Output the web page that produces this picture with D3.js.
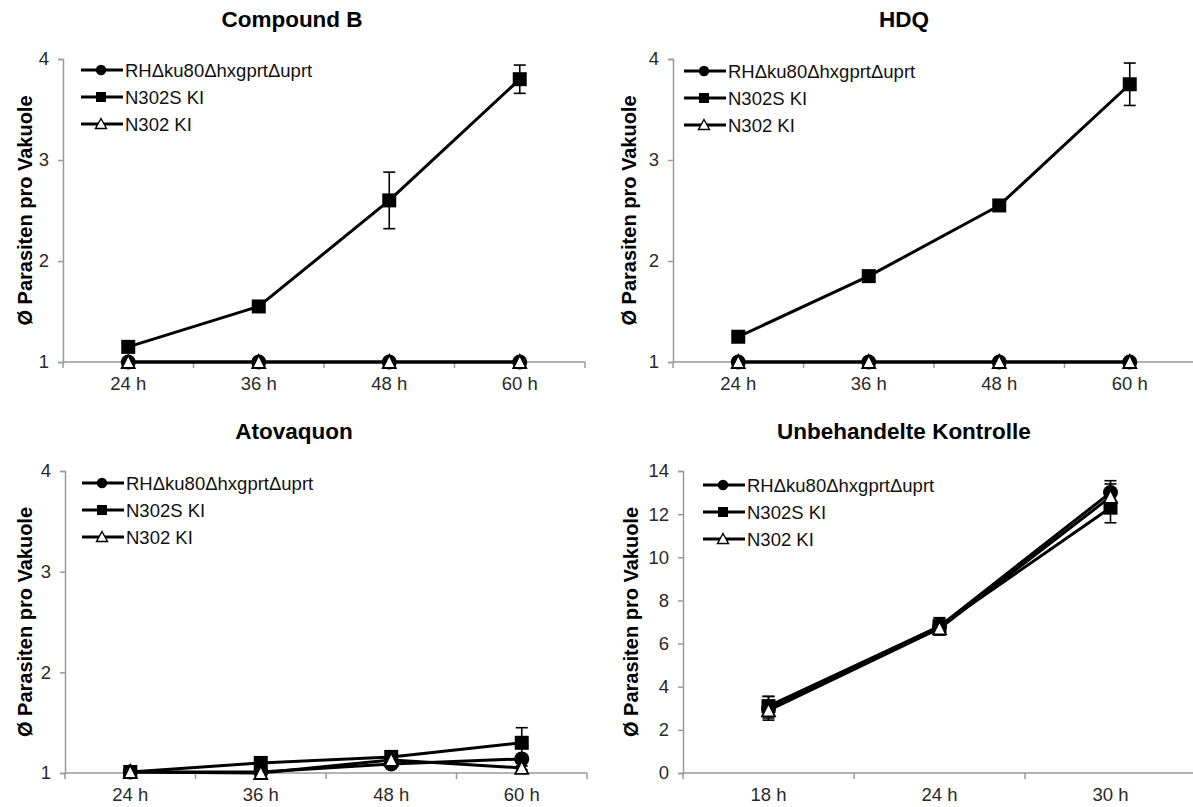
<!DOCTYPE html>
<html>
<head>
<meta charset="utf-8">
<script src="https://cdn.jsdelivr.net/npm/d3@7"></script>
<style>
  html, body { margin: 0; padding: 0; background: #fff; overflow: hidden; }
  svg { display: block; font-family: "Liberation Sans", Arial, sans-serif; }
</style>
</head>
<body>
<svg id="chart" width="1193" height="807"></svg>
<script>
// Strain names (legend)
const strains = ["RH\u0394ku80\u0394hxgprt\u0394uprt", "N302S KI", "N302 KI"];

// Time points
const hoursTreated = ["24 h", "36 h", "48 h", "60 h"];
const hoursControl = ["18 h", "24 h", "30 h"];

// Compound B: mean parasites per vacuole and SD
const compBRH     = [1.0, 1.0, 1.0, 1.0];
const compBN302S  = [1.15, 1.55, 2.6, 3.8];
const compBN302   = [1.0, 1.0, 1.0, 1.0];
const compBErrRH    = [0, 0, 0, 0];
const compBErrN302S = [0.03, 0.03, 0.28, 0.14];
const compBErrN302  = [0, 0, 0, 0];

// HDQ
const hdqRH     = [1.0, 1.0, 1.0, 1.0];
const hdqN302S  = [1.25, 1.85, 2.55, 3.75];
const hdqN302   = [1.0, 1.0, 1.0, 1.0];
const hdqErrRH    = [0, 0, 0, 0];
const hdqErrN302S = [0.03, 0.03, 0.03, 0.21];
const hdqErrN302  = [0, 0, 0, 0];

// Atovaquon
const atoRH     = [1.01, 1.01, 1.09, 1.14];
const atoN302S  = [1.01, 1.10, 1.16, 1.30];
const atoN302   = [1.01, 1.00, 1.13, 1.05];
const atoErrRH    = [0, 0, 0.02, 0.03];
const atoErrN302S = [0, 0.02, 0.02, 0.15];
const atoErrN302  = [0, 0, 0.02, 0.02];

// Unbehandelte Kontrolle
const ctrlRH     = [3.0, 6.8, 13.0];
const ctrlN302S  = [3.1, 6.8, 12.3];
const ctrlN302   = [2.9, 6.7, 12.8];
const ctrlErrRH    = [0.55, 0.4, 0.55];
const ctrlErrN302S = [0.45, 0.35, 0.7];
const ctrlErrN302  = [0.35, 0.3, 0.6];

// Y-axis ticks
const ticksTreated = [1, 2, 3, 4];
const ticksControl = [0, 2, 4, 6, 8, 10, 12, 14];

const yTitle = "\u00d8 Parasiten pro Vakuole";

const panels = [
  { title: "Compound B", cats: hoursTreated, series: [compBRH, compBN302S, compBN302],
    errs: [compBErrRH, compBErrN302S, compBErrN302], domain: [1, 4], ticks: ticksTreated,
    x0: 63, x1: 585, yTop: 59, yBot: 362, titleX: 292, titleY: 27, yTitleX: 25, legX: 81, legY: 70 },
  { title: "HDQ", cats: hoursTreated, series: [hdqRH, hdqN302S, hdqN302],
    errs: [hdqErrRH, hdqErrN302S, hdqErrN302], domain: [1, 4], ticks: ticksTreated,
    x0: 673, x1: 1195, yTop: 59, yBot: 362, titleX: 904, titleY: 27, yTitleX: 629, legX: 684, legY: 71 },
  { title: "Atovaquon", cats: hoursTreated, series: [atoRH, atoN302S, atoN302],
    errs: [atoErrRH, atoErrN302S, atoErrN302], domain: [1, 4], ticks: ticksTreated,
    x0: 65, x1: 587, yTop: 471, yBot: 773, titleX: 294, titleY: 439, yTitleX: 25, legX: 82, legY: 483 },
  { title: "Unbehandelte Kontrolle", cats: hoursControl, series: [ctrlRH, ctrlN302S, ctrlN302],
    errs: [ctrlErrRH, ctrlErrN302S, ctrlErrN302], domain: [0, 14], ticks: ticksControl,
    x0: 683, x1: 1196, yTop: 471, yBot: 773, titleX: 904, titleY: 439, yTitleX: 631, legX: 703, legY: 485 }
];

const svg = d3.select("#chart");
const axisGrey = "#9a9a9a";
const textGrey = "#2a2a2a";

function drawMarker(g, kind, cx, cy) {
  if (kind === 0) {
    g.append("circle").attr("cx", cx).attr("cy", cy).attr("r", 7.5).attr("fill", "#000");
  } else if (kind === 1) {
    g.append("rect").attr("x", cx - 7).attr("y", cy - 7).attr("width", 14).attr("height", 14).attr("fill", "#000");
  } else {
    g.append("path")
      .attr("d", `M${cx},${cy - 7} L${cx + 6.5},${cy + 6} L${cx - 6.5},${cy + 6} Z`)
      .attr("fill", "#fff").attr("stroke", "#000").attr("stroke-width", 1.8)
      .attr("stroke-linejoin", "miter");
  }
}

function drawLegendMarker(g, kind, cx, cy) {
  if (kind === 0) {
    g.append("circle").attr("cx", cx).attr("cy", cy).attr("r", 5.2).attr("fill", "#000");
  } else if (kind === 1) {
    g.append("rect").attr("x", cx - 5).attr("y", cy - 5).attr("width", 10).attr("height", 10).attr("fill", "#000");
  } else {
    g.append("path")
      .attr("d", `M${cx},${cy - 5.5} L${cx + 5.5},${cy + 4.5} L${cx - 5.5},${cy + 4.5} Z`)
      .attr("fill", "#fff").attr("stroke", "#000").attr("stroke-width", 1.4);
  }
}

panels.forEach(p => {
  const g = svg.append("g");
  const x = d3.scaleBand().domain(p.cats).range([p.x0, p.x1]);
  const y = d3.scaleLinear().domain(p.domain).range([p.yBot, p.yTop]);
  const cx = c => x(c) + x.bandwidth() / 2;

  // Title
  g.append("text")
    .attr("x", p.titleX)
    .attr("y", p.titleY)
    .attr("text-anchor", "middle")
    .attr("font-size", 22.5).attr("font-weight", "bold").attr("fill", "#000")
    .text(p.title);

  // Y axis
  const yAxis = g.append("g").attr("transform", `translate(${p.x0},0)`)
    .call(d3.axisLeft(y).tickValues(p.ticks).tickSize(5).tickPadding(9).tickFormat(d3.format("d")));
  yAxis.select(".domain").attr("stroke", axisGrey).attr("stroke-width", 1.5);
  yAxis.selectAll(".tick line").attr("stroke", axisGrey).attr("stroke-width", 1.5);
  yAxis.selectAll(".tick text").attr("font-size", 18.5).attr("fill", textGrey)
    .attr("font-family", "Liberation Sans, Arial, sans-serif");

  // X axis: tick marks at band edges, labels at band centres
  const xg = g.append("g");
  xg.append("line").attr("x1", p.x0).attr("x2", p.x1).attr("y1", p.yBot).attr("y2", p.yBot)
    .attr("stroke", axisGrey).attr("stroke-width", 1.5);
  const edges = p.cats.map(c => x(c)).concat([x(p.cats[p.cats.length - 1]) + x.bandwidth()]);
  xg.selectAll("line.edge").data(edges).enter().append("line").attr("class", "edge")
    .attr("x1", d => d).attr("x2", d => d).attr("y1", p.yBot).attr("y2", p.yBot + 6)
    .attr("stroke", axisGrey).attr("stroke-width", 1.5);
  xg.selectAll("text").data(p.cats).enter().append("text")
    .attr("x", d => cx(d)).attr("y", p.yBot + 28)
    .attr("text-anchor", "middle").attr("font-size", 18.5).attr("fill", textGrey)
    .text(d => d);

  // Y title
  g.append("text")
    .attr("transform", `translate(${p.yTitleX + 7},${(p.yTop + p.yBot) / 2}) rotate(-90)`)
    .attr("text-anchor", "middle")
    .attr("font-size", 20).attr("font-weight", "bold").attr("fill", "#000")
    .text(yTitle);

  // Series lines
  const line = d3.line().x((d, i) => cx(p.cats[i])).y(d => y(d));
  p.series.forEach((s, k) => {
    g.append("path").datum(s).attr("d", line)
      .attr("fill", "none").attr("stroke", "#000").attr("stroke-width", 3)
      .attr("stroke-linejoin", "round");
  });

  // Error bars
  p.series.forEach((s, k) => {
    s.forEach((v, i) => {
      const e = p.errs[k][i];
      if (!e) return;
      const px = cx(p.cats[i]);
      const eg = g.append("g").attr("stroke", "#000").attr("stroke-width", 1.6);
      eg.append("line").attr("x1", px).attr("x2", px).attr("y1", y(v - e)).attr("y2", y(v + e));
      eg.append("line").attr("x1", px - 6).attr("x2", px + 6).attr("y1", y(v + e)).attr("y2", y(v + e));
      eg.append("line").attr("x1", px - 6).attr("x2", px + 6).attr("y1", y(v - e)).attr("y2", y(v - e));
    });
  });

  // Markers
  p.series.forEach((s, k) => {
    s.forEach((v, i) => drawMarker(g, k, cx(p.cats[i]), y(v)));
  });

  // Legend
  strains.forEach((name, k) => {
    const ly = p.legY + k * 27;
    g.append("line").attr("x1", p.legX).attr("x2", p.legX + 42).attr("y1", ly).attr("y2", ly)
      .attr("stroke", "#000").attr("stroke-width", 3);
    drawLegendMarker(g, k, p.legX + 20, ly);
    g.append("text").attr("x", p.legX + 44).attr("y", ly + 6.5)
      .attr("font-size", 18.5).attr("fill", "#111").text(name);
  });
});
</script>
</body>
</html>
